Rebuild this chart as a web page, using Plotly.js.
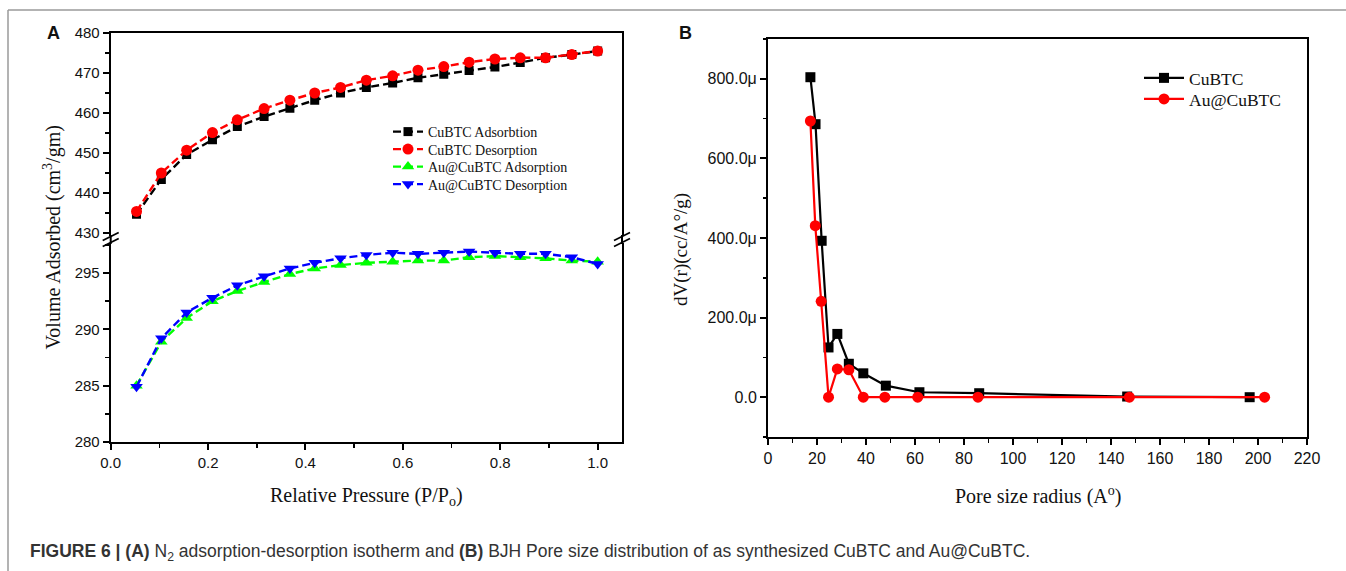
<!DOCTYPE html>
<html>
<head>
<meta charset="utf-8">
<script src="https://cdn.plot.ly/plotly-3.0.1.min.js"></script>
<style>
  html, body { margin: 0; padding: 0; background: #fff; }
  #chart { width: 1346px; height: 571px; }
</style>
</head>
<body>
<div id="chart"></div>
<script>
// ---------- DATA ----------
// Panel A: N2 adsorption-desorption isotherm
const relPressure = [0.053, 0.104, 0.156, 0.209, 0.260, 0.315, 0.368, 0.419, 0.472, 0.525,
                     0.579, 0.631, 0.684, 0.736, 0.789, 0.841, 0.893, 0.947, 1.000];
const cubtcAdsorption = [434.7, 443.4, 449.6, 453.3, 456.6, 459.1, 461.2, 463.2, 465.0, 466.4,
                         467.5, 468.8, 469.7, 470.6, 471.5, 472.6, 473.8, 474.6, 475.5];
const cubtcDesorption = [435.4, 445.0, 450.7, 455.1, 458.3, 461.1, 463.2, 465.0, 466.4, 468.2,
                         469.3, 470.7, 471.6, 472.7, 473.5, 473.8, 473.8, 474.6, 475.5];
const auAdsorption = [285.0, 288.9, 291.0, 292.5, 293.4, 294.2, 294.9, 295.4, 295.7, 295.9,
                      296.0, 296.1, 296.1, 296.4, 296.5, 296.4, 296.3, 296.1, 296.0];
const auDesorption = [284.9, 289.2, 291.5, 292.8, 293.9, 294.7, 295.4, 295.9, 296.3, 296.6,
                      296.8, 296.7, 296.8, 296.9, 296.8, 296.7, 296.7, 296.4, 295.8];
const seriesNamesA = ["CuBTC Adsorbtion", "CuBTC Desorption", "Au@CuBTC Adsorption", "Au@CuBTC Desorption"];

// Panel B: BJH pore size distribution (values in micro-units, cc/Å/g ×1e-6)
const cubtcRadius = [17.3, 19.4, 21.9, 24.7, 28.3, 33.0, 38.9, 48.1, 61.8, 86.2, 146.6, 196.6];
const cubtcDV     = [804, 686, 393, 125, 159, 84, 60, 29, 12.5, 10, 1.7, 0];
const auRadius    = [17.3, 19.3, 21.7, 24.7, 28.3, 33.0, 38.9, 47.7, 61.1, 85.7, 147.5, 202.7];
const auDV        = [694, 431, 241, 0, 71, 69, 0, 0, 0, 0, 0, 0];
const seriesNamesB = ["CuBTC", "Au@CuBTC"];
const dvTickVals  = [0, 200, 400, 600, 800];
const dvTickText  = ["0.0", "200.0μ", "400.0μ", "600.0μ", "800.0μ"];

// ---------- LAYOUT HELPERS (pixel -> paper) ----------
const W = 1346, H = 571;
const px = x => x / W;
const py = y => 1 - y / H;

const SANS = "Liberation Sans, Arial, sans-serif";
const SERIF = "Liberation Serif, Times New Roman, serif";
const tickFontA = { family: SANS, size: 15, color: "#111" };
const tickFontB = { family: SANS, size: 16, color: "#111" };

function axisBase(extra) {
  return Object.assign({
    showline: true, linecolor: "#000", linewidth: 2,
    ticks: "outside", ticklen: 6, tickwidth: 2, tickcolor: "#000",
    showgrid: false, zeroline: false, tickfont: tickFontA, fixedrange: true
  }, extra);
}

// Panel A geometry
const aL = 110.7, aR = 622, aTop = 33, aBreakTop = 236, aBreakBot = 243, aBot = 442;
// Panel B geometry
const bL = 768, bR = 1307, bTop = 39, bBot = 437;

const dashA = "8px,4px";
const traces = [
  { x: relPressure, y: cubtcAdsorption, name: seriesNamesA[0], xaxis: "x2", yaxis: "y2",
    mode: "lines+markers", line: { color: "#000", width: 2.4, dash: dashA },
    marker: { symbol: "square", size: 9, color: "#000" }, legend: "legend" },
  { x: relPressure, y: cubtcDesorption, name: seriesNamesA[1], xaxis: "x2", yaxis: "y2",
    mode: "lines+markers", line: { color: "#ff0000", width: 2.4, dash: dashA },
    marker: { symbol: "circle", size: 11, color: "#ff0000" }, legend: "legend2" },
  { x: relPressure, y: auAdsorption, name: seriesNamesA[2], xaxis: "x", yaxis: "y",
    mode: "lines+markers", line: { color: "#00ff00", width: 2.4, dash: dashA },
    marker: { symbol: "triangle-up", size: 11, color: "#00ff00" }, legend: "legend3" },
  { x: relPressure, y: auDesorption, name: seriesNamesA[3], xaxis: "x", yaxis: "y",
    mode: "lines+markers", line: { color: "#0000ff", width: 2.4, dash: dashA },
    marker: { symbol: "triangle-down", size: 11, color: "#0000ff" }, legend: "legend4" },
  { x: cubtcRadius, y: cubtcDV, name: seriesNamesB[0], xaxis: "x3", yaxis: "y3",
    mode: "lines+markers", line: { color: "#000", width: 2.2 },
    marker: { symbol: "square", size: 10, color: "#000" }, legend: "legend5" },
  { x: auRadius, y: auDV, name: seriesNamesB[1], xaxis: "x3", yaxis: "y3",
    mode: "lines+markers", line: { color: "#ff0000", width: 2.2 },
    marker: { symbol: "circle", size: 11, color: "#ff0000" }, legend: "legend6" }
];

const minorTick = (d) => ({ ticks: "outside", dtick: d, ticklen: 3.5, tickwidth: 1.5, tickcolor: "#000" });

function seg(x0, y0, x1, y1, color, width) {
  return { type: "line", xref: "paper", yref: "paper", x0: px(x0), y0: py(y0), x1: px(x1), y1: py(y1),
           line: { color: color, width: width } };
}
const midBreak = (aBreakTop + aBreakBot) / 2;
const shapes = [
  seg(aL, aBreakTop - 1, aL, aBreakBot + 1, "#000", 2),
  seg(aR, aBreakTop - 1, aR, aBreakBot + 1, "#000", 2),
  seg(aL - 8, midBreak + 1, aL + 8, midBreak - 7, "#000", 1.8),
  seg(aL - 8, midBreak + 7, aL + 8, midBreak - 1, "#000", 1.8),
  seg(aR - 8, midBreak + 1, aR + 8, midBreak - 7, "#000", 1.8),
  seg(aR - 8, midBreak + 7, aR + 8, midBreak - 1, "#000", 1.8),
  // outer figure frame
  seg(8, 10, 1346, 10, "#9a9a9a", 1.5),
  seg(8, 10, 8, 571, "#9a9a9a", 1.5)
];

function ann(text, x, y, opts) {
  return Object.assign({ text: text, xref: "paper", yref: "paper", x: px(x), y: py(y),
    showarrow: false, xanchor: "center", yanchor: "middle" }, opts);
}

const annotations = [
  ann("<b>A</b>", 53, 33, { font: { family: SANS, size: 18, color: "#111" } }),
  ann("<b>B</b>", 685, 33, { font: { family: SANS, size: 18, color: "#111" } }),
  ann("Relative Pressure (P/P<sub>o</sub>)", (aL + aR) / 2, 496, { font: { family: SERIF, size: 20, color: "#111" } }),
  ann("Volume Adsorbed (cm<sup>3</sup>/gm)", 52, (aTop + aBot) / 2, { textangle: -90, font: { family: SERIF, size: 20, color: "#111" } }),
  ann("Pore size radius (A<sup>o</sup>)", (bL + bR) / 2, 495, { font: { family: SERIF, size: 20, color: "#111" } }),
  ann("dV(r)(cc/A°/g)", 681, 250, { textangle: -90, font: { family: SERIF, size: 19, color: "#111" } }),
  ann("<b>FIGURE 6 | (A)</b> N<sub>2</sub> adsorption-desorption isotherm and <b>(B)</b> BJH Pore size distribution of as synthesized CuBTC and Au@CuBTC.",
      28, 552, { xanchor: "left", font: { family: SANS, size: 17.5, color: "#333" } })
];

function legA(yc) {
  return { x: px(388), y: py(yc), xanchor: "left", yanchor: "middle", bgcolor: "rgba(0,0,0,0)",
           font: { family: SERIF, size: 14, color: "#111" }, itemwidth: 30, tracegroupgap: 0 };
}
function legB(yc) {
  return { x: px(1139), y: py(yc), xanchor: "left", yanchor: "middle", bgcolor: "rgba(0,0,0,0)",
           font: { family: SERIF, size: 17.5, color: "#111" }, itemwidth: 40, tracegroupgap: 0 };
}

const layout = {
  width: W, height: H,
  margin: { l: 0, r: 0, t: 0, b: 0 },
  paper_bgcolor: "#fff", plot_bgcolor: "rgba(0,0,0,0)",
  showlegend: true,
  xaxis: axisBase({ domain: [px(aL), px(aR)], anchor: "y", range: [0, 1.05], tick0: 0, dtick: 0.2,
                    tickformat: ".1f", minor: minorTick(0.1) }),
  yaxis: axisBase({ domain: [py(aBot), py(aBreakBot)], anchor: "x", range: [280, 297.66], tick0: 280, dtick: 5,
                    mirror: true, minor: minorTick(2.5) }),
  xaxis2: axisBase({ domain: [px(aL), px(aR)], anchor: "y2", matches: "x", side: "top",
                     ticks: "", showticklabels: false }),
  yaxis2: axisBase({ domain: [py(aBreakTop), py(aTop)], anchor: "x2", range: [429.25, 480], tick0: 430, dtick: 10,
                     mirror: true, minor: minorTick(5) }),
  xaxis3: axisBase({ domain: [px(bL), px(bR)], anchor: "y3", range: [0, 220], tick0: 0, dtick: 20,
                     mirror: true, minor: minorTick(10), tickfont: tickFontB }),
  yaxis3: axisBase({ domain: [py(bBot), py(bTop)], anchor: "x3", range: [-100, 900],
                     tickmode: "array", tickvals: dvTickVals, ticktext: dvTickText,
                     mirror: true, minor: { ticks: "outside", tickmode: "linear", tick0: 0, dtick: 100, ticklen: 3.5, tickwidth: 1.5, tickcolor: "#000" },
                     tickfont: tickFontB }),
  legend: legA(132), legend2: legA(149.5), legend3: legA(167), legend4: legA(184.5),
  legend5: legB(78), legend6: legB(99),
  shapes: shapes,
  annotations: annotations
};

Plotly.newPlot("chart", traces, layout, { displayModeBar: false, staticPlot: true });
</script>
</body>
</html>
